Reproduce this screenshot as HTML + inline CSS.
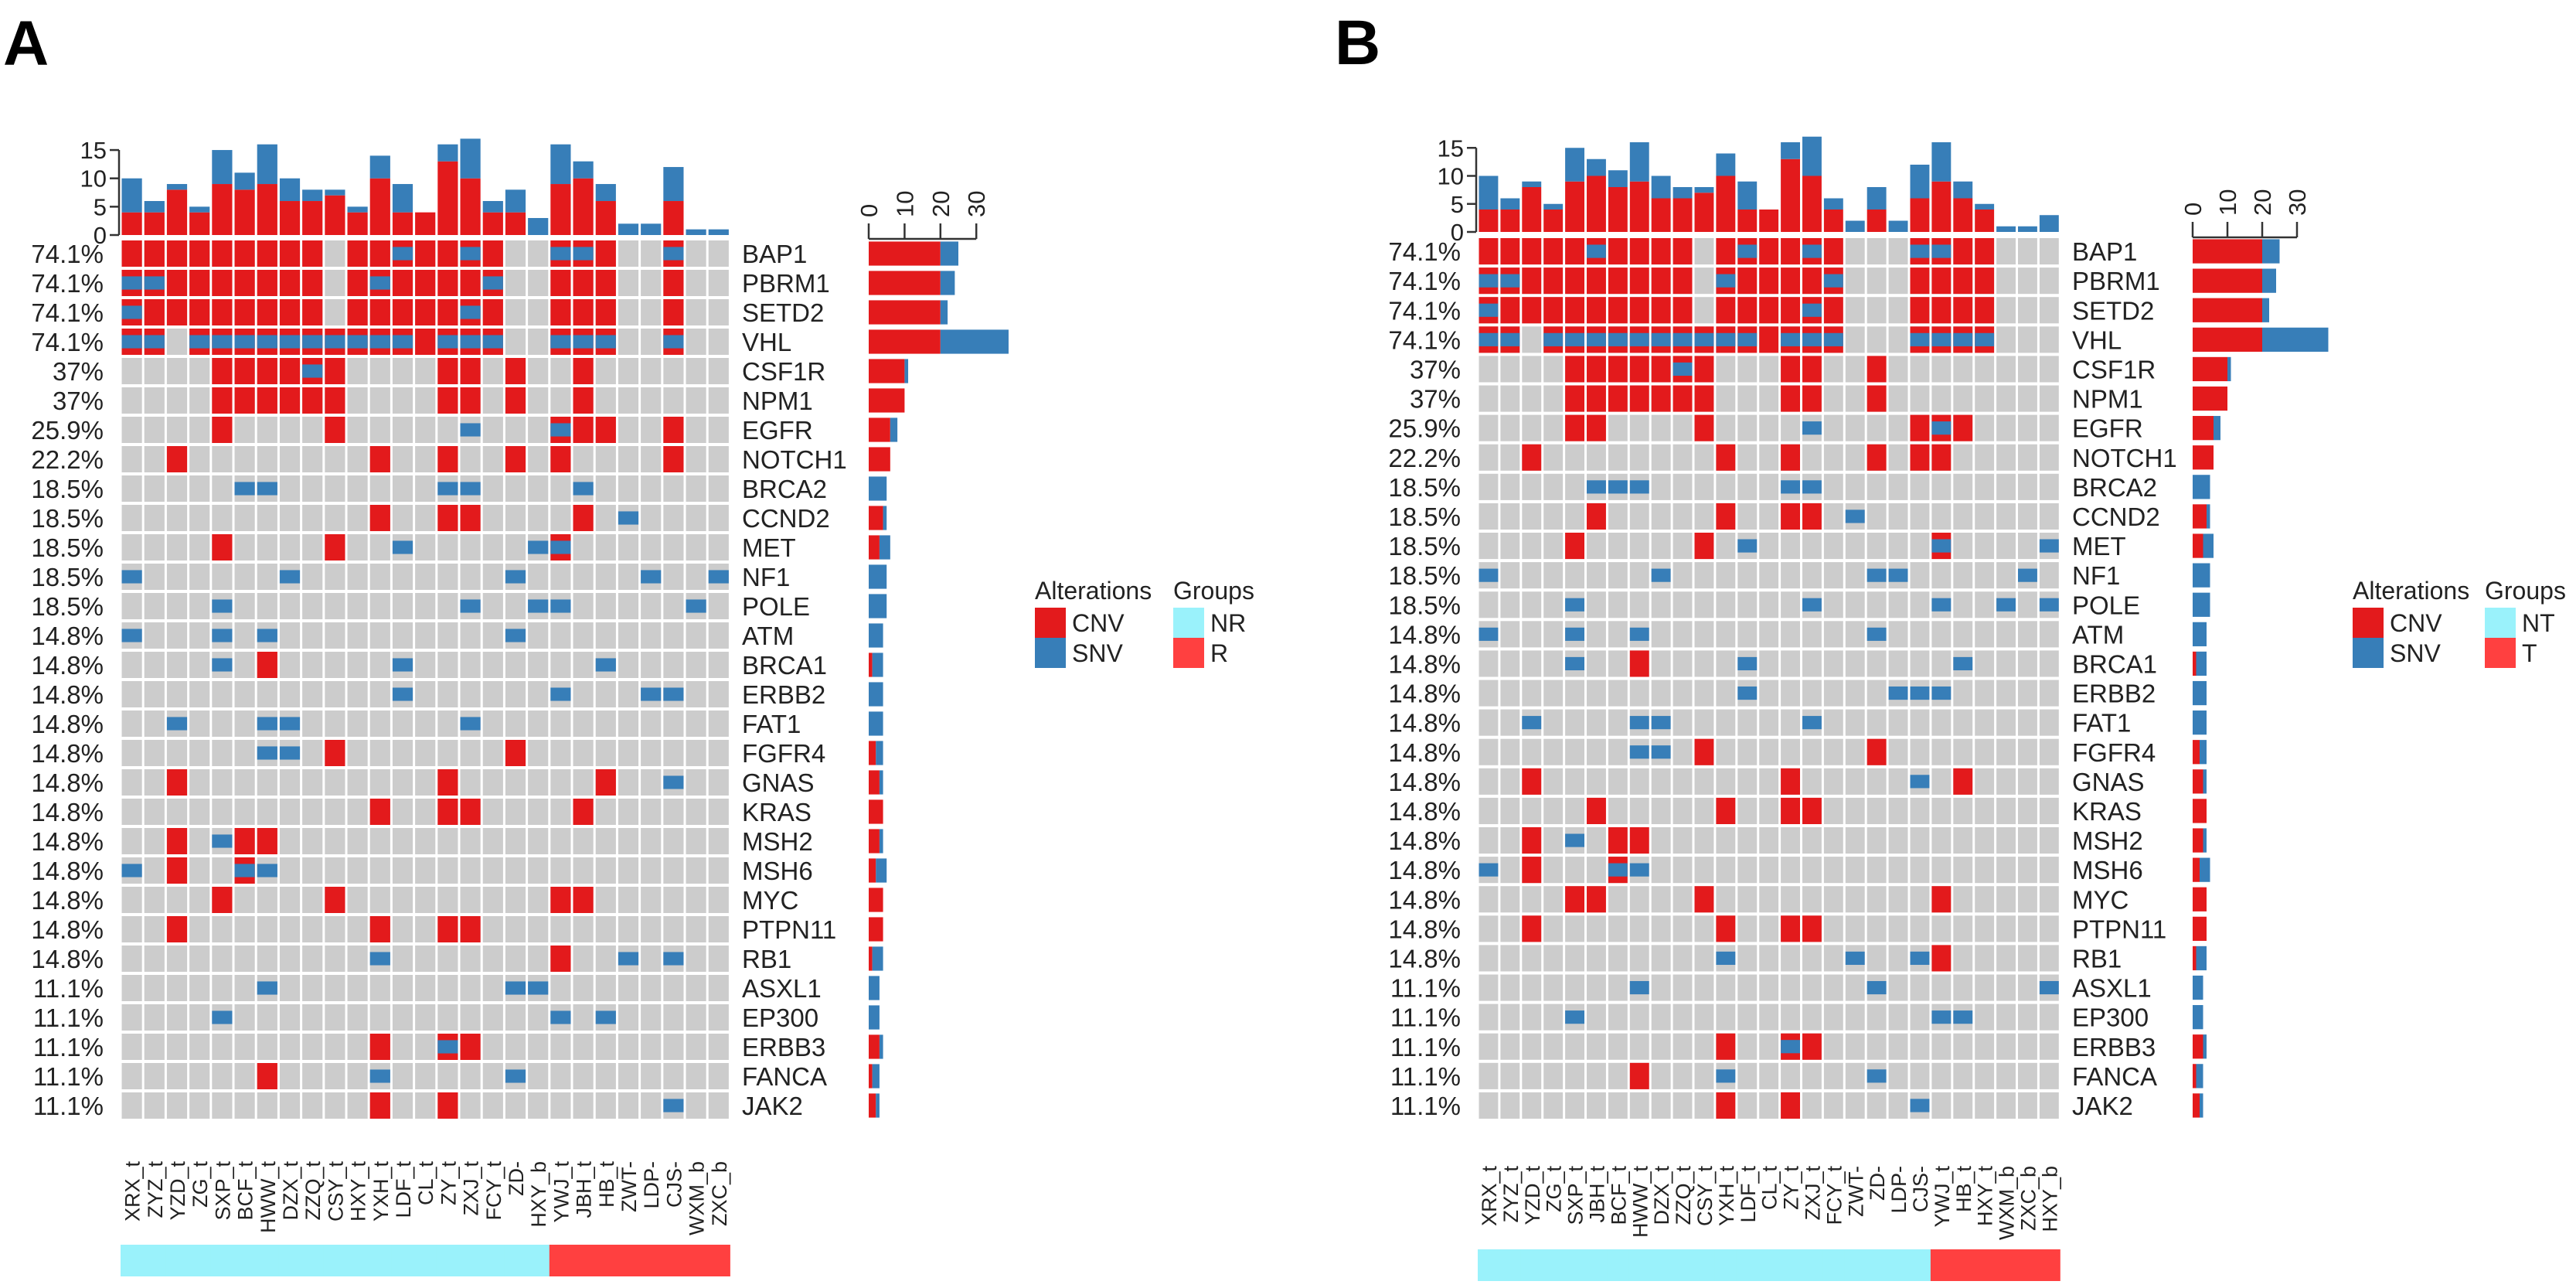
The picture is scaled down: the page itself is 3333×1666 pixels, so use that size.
<!DOCTYPE html>
<html><head><meta charset="utf-8">
<style>
html,body{margin:0;padding:0;background:#fff;}
svg{display:block;font-family:"Liberation Sans",Arial,sans-serif;}
</style></head>
<body>
<svg id="chart" width="3333" height="1666" viewBox="0 0 3333 1666" xmlns="http://www.w3.org/2000/svg">
<text x="4" y="84" font-size="82" font-weight="bold">A</text>
<text x="1727" y="83" font-size="82" font-weight="bold">B</text>
</svg>
<script>
const genes = ["BAP1","PBRM1","SETD2","VHL","CSF1R","NPM1","EGFR","NOTCH1","BRCA2","CCND2","MET","NF1","POLE","ATM","BRCA1","ERBB2","FAT1","FGFR4","GNAS","KRAS","MSH2","MSH6","MYC","PTPN11","RB1","ASXL1","EP300","ERBB3","FANCA","JAK2"];
const pctLabels = ["74.1%","74.1%","74.1%","74.1%","37%","37%","25.9%","22.2%","18.5%","18.5%","18.5%","18.5%","18.5%","14.8%","14.8%","14.8%","14.8%","14.8%","14.8%","14.8%","14.8%","14.8%","14.8%","14.8%","14.8%","11.1%","11.1%","11.1%","11.1%","11.1%"];
const samplesA = ["XRX_t","ZYZ_t","YZD_t","ZG_t","SXP_t","BCF_t","HWW_t","DZX_t","ZZQ_t","CSY_t","HXY_t","YXH_t","LDF_t","CL_t","ZY_t","ZXJ_t","FCY_t","ZD-","HXY_b","YWJ_t","JBH_t","HB_t","ZWT-","LDP-","CJS-","WXM_b","ZXC_b"];
const samplesB = ["XRX_t","ZYZ_t","YZD_t","ZG_t","SXP_t","JBH_t","BCF_t","HWW_t","DZX_t","ZZQ_t","CSY_t","YXH_t","LDF_t","CL_t","ZY_t","ZXJ_t","FCY_t","ZWT-","ZD-","LDP-","CJS-","YWJ_t","HB_t","HXY_t","WXM_b","ZXC_b","HXY_b"];
const groupsA = ["NR","NR","NR","NR","NR","NR","NR","NR","NR","NR","NR","NR","NR","NR","NR","NR","NR","NR","NR","R","R","R","R","R","R","R","R"];
const groupsB = ["NT","NT","NT","NT","NT","NT","NT","NT","NT","NT","NT","NT","NT","NT","NT","NT","NT","NT","NT","NT","NT","T","T","T","T","T","T"];
const cnvA = [
[0,1,2,3,4,5,6,7,8,10,11,12,13,14,15,16,19,20,21,24],
[0,1,2,3,4,5,6,7,8,10,11,12,13,14,15,16,19,20,21,24],
[0,1,2,3,4,5,6,7,8,10,11,12,13,14,15,16,19,20,21,24],
[0,1,3,4,5,6,7,8,9,10,11,12,13,14,15,16,19,20,21,24],
[4,5,6,7,8,9,14,15,17,20],
[4,5,6,7,8,9,14,15,17,20],
[4,9,19,20,21,24],
[2,11,14,17,19,24],
[],
[11,14,15,20],
[4,9,19],
[],[],[],
[6],
[],[],
[9,17],
[2,14,21],
[11,14,15,20],
[2,5,6],
[2,5],
[4,9,19,20],
[2,11,14,15],
[19],
[],[],
[11,14,15],
[6],
[11,14]];
const snvA = [
[12,15,19,20,24],
[0,1,11,16],
[0,15],
[0,1,3,4,5,6,7,8,9,10,11,12,14,15,16,19,20,21,24],
[8],
[],
[15,19],
[],
[5,6,14,15,20],
[22],
[12,18,19],
[0,7,17,23,26],
[4,15,18,19,25],
[0,4,6,17],
[4,12,21],
[12,19,23,24],
[2,6,7,15],
[6,7],
[24],
[],
[4],
[0,5,6],
[],
[],
[11,22,24],
[6,17,18],
[4,19,21],
[14],
[11,17],
[24]];
const cnvB = [
[0,1,2,3,4,5,6,7,8,9,11,12,13,14,15,16,20,21,22,23],
[0,1,2,3,4,5,6,7,8,9,11,12,13,14,15,16,20,21,22,23],
[0,1,2,3,4,5,6,7,8,9,11,12,13,14,15,16,20,21,22,23],
[0,1,3,4,5,6,7,8,9,10,11,12,13,14,15,16,20,21,22,23],
[4,5,6,7,8,9,10,14,15,18],
[4,5,6,7,8,9,10,14,15,18],
[4,5,10,20,21,22],
[2,11,14,18,20,21],
[],
[5,11,14,15],
[4,10,21],
[],[],[],
[7],
[],[],
[10,18],
[2,14,22],
[5,11,14,15],
[2,6,7],
[2,6],
[4,5,10,21],
[2,11,14,15],
[21],
[],[],
[11,14,15],
[7],
[11,14]];
const snvB = [
[5,12,15,20,21],
[0,1,11,16],
[0,15],
[0,1,3,4,5,6,7,8,9,10,11,12,14,15,16,20,21,22,23],
[9],
[],
[15,21],
[],
[5,6,7,14,15],
[17],
[12,21,26],
[0,8,18,19,25],
[4,15,21,24,26],
[0,4,7,18],
[4,12,22],
[12,19,20,21],
[2,7,8,15],
[7,8],
[20],
[],
[4],
[0,6,7],
[],
[],
[11,17,20],
[7,18,26],
[4,21,22],
[14],
[11,18],
[20]];
const topTicks = [0,5,10,15];
const rightTicks = [0,10,20,30];

const NS = "http://www.w3.org/2000/svg";
const svg = document.getElementById("chart");
const RED = "#E31A1C", BLUE = "#377EB8", GRAY = "#CCCCCC";
const GCOL = {NR:"#9AF2FB", NT:"#9AF2FB", R:"#FF4040", T:"#FF4040"};
function mk(tag, attrs, parent){
  const e = document.createElementNS(NS, tag);
  for (const k in attrs) e.setAttribute(k, attrs[k]);
  (parent||svg).appendChild(e);
  return e;
}

function panel(P){
  const g = mk("g", {});
  
  
  const nS = P.samples.length, nG = genes.length;
  const colX = i => P.left + i * P.cw;
  const rowY = r => P.top + r * P.rh;
  const topY = v => P.base - v * P.tscale;
  const rightX = v => P.rx0 + v * P.rscale;

  for (let r = 0; r < nG; r++) {
    for (let c = 0; c < nS; c++) {
      const cell = mk("rect", {x: colX(c)+1.5, y: rowY(r)+2, width: P.cw-3, height: P.rh-4, fill: GRAY}, g);
      
      
    }
    P.cnv[r].forEach(c => {
      const e = mk("rect", {x: colX(c)+1.5, y: rowY(r)+2, width: P.cw-3, height: P.rh-4, fill: RED}, g);
      
      
    });
    P.snv[r].forEach(c => {
      const h = P.rh * 0.45;
      const e = mk("rect", {x: colX(c)+1.5, y: rowY(r)+(P.rh-h)/2, width: P.cw-3, height: h, fill: BLUE}, g);
      
      
    });
    const pt = mk("text", {x: P.left-22, y: rowY(r)+P.rh/2+12, "font-size": 33, "text-anchor": "end", fill: "#222"}, g);
    pt.textContent = pctLabels[r];
    
    
    const gt = mk("text", {x: P.gx, y: rowY(r)+P.rh/2+12, "font-size": 33, fill: "#222"}, g);
    gt.textContent = genes[r];
    
    

    const nc = P.cnv[r].length, ns = P.snv[r].length;
    const bh = P.rh * 0.82, by = rowY(r) + (P.rh - bh)/2;
    const rb1 = mk("rect", {x: rightX(0), y: by, width: rightX(nc)-rightX(0), height: bh, fill: RED}, g);
    
    
    const rb2 = mk("rect", {x: rightX(nc), y: by, width: rightX(nc+ns)-rightX(nc), height: bh, fill: BLUE}, g);
    
    
  }

  for (let c = 0; c < nS; c++) {
    let nc = 0, ns = 0;
    for (let r = 0; r < nG; r++) { if (P.cnv[r].includes(c)) nc++; if (P.snv[r].includes(c)) ns++; }
    const t1 = mk("rect", {x: colX(c)+1.5, y: topY(nc), width: P.cw-3, height: topY(0)-topY(nc), fill: RED}, g);
    
    
    const t2 = mk("rect", {x: colX(c)+1.5, y: topY(nc+ns), width: P.cw-3, height: topY(nc)-topY(nc+ns), fill: BLUE}, g);
    
    
  }
  const ax = mk("path", {d: "M" + (P.left-2) + " " + topY(15) + " V " + topY(0), stroke: "#333", "stroke-width": 2.5, fill: "none"}, g);
  
  
  topTicks.forEach(v => {
    const tk = mk("line", {x1: P.left-14, x2: P.left-2, y1: topY(v), y2: topY(v), stroke: "#333", "stroke-width": 2.5}, g);
    
    
    const tl = mk("text", {x: P.left-18, y: topY(v)+11, "font-size": 31, "text-anchor": "end", fill: "#222"}, g);
    tl.textContent = v;
    
    
  });
  const ry = P.raxisY;
  const rax = mk("path", {d: "M" + rightX(0) + " " + ry + " H " + rightX(30), stroke: "#333", "stroke-width": 2.5, fill: "none"}, g);
  
  
  rightTicks.forEach(v => {
    const tk = mk("line", {x1: rightX(v), x2: rightX(v), y1: ry, y2: ry-20, stroke: "#333", "stroke-width": 2.5}, g);
    
    
    const tl = mk("text", {x: 0, y: 0, "font-size": 31, fill: "#222", transform: "translate(" + (rightX(v)+11) + "," + (ry-28) + ") rotate(-90)"}, g);
    tl.textContent = v;
    
    
  });
  P.samples.forEach((s, c) => {
    const t = mk("text", {x: 0, y: 0, "font-size": 27, "text-anchor": "end", fill: "#222",
      transform: "translate(" + (colX(c)+P.cw/2+10) + "," + P.labY + ") rotate(-90)"}, g);
    t.textContent = s;
    
    
  });
  P.groups.forEach((gr, c) => {
    const e = mk("rect", {x: colX(c), y: P.gy, width: P.cw+0.5, height: 41, fill: GCOL[gr]}, g);
    
    
  });
  const L = P.legend;
  const lt = mk("text", {x: L.x, y: 775, "font-size": 32, fill: "#222"}, g);
  lt.textContent = "Alterations";
  
  
  const gtl = mk("text", {x: L.gx, y: 775, "font-size": 32, fill: "#222"}, g);
  gtl.textContent = "Groups";
  
  
  [["CNV", RED, L.x], ["SNV", BLUE, L.x], [P.gnames[0], GCOL[P.gnames[0]], L.gx], [P.gnames[1], GCOL[P.gnames[1]], L.gx]].forEach((it, i) => {
    const yy = 786 + (i % 2) * 39;
    const sw = mk("rect", {x: it[2], y: yy, width: 40, height: 39, fill: it[1]}, g);
    
    
    const tx = mk("text", {x: it[2]+48, y: yy+31, "font-size": 32, fill: "#222"}, g);
    tx.textContent = it[0];
    
    
  });
}

panel({id: "panel-a", samples: samplesA, groups: groupsA, gnames: ["NR","R"], cnv: cnvA, snv: snvA,
  left: 156, cw: 29.2, top: 309, rh: 38.0, base: 304, tscale: 7.33, gx: 960,
  rx0: 1124, rscale: 4.64, raxisY: 309, labY: 1502, gy: 1610, legend: {x: 1339, gx: 1518}});
panel({id: "panel-b", samples: samplesB, groups: groupsB, gnames: ["NT","T"], cnv: cnvB, snv: snvB,
  left: 1912, cw: 27.9, top: 306, rh: 38.1, base: 300, tscale: 7.25, gx: 2681,
  rx0: 2837, rscale: 4.5, raxisY: 307, labY: 1508, gy: 1616, legend: {x: 3044, gx: 3215}});
</script>
</body></html>
